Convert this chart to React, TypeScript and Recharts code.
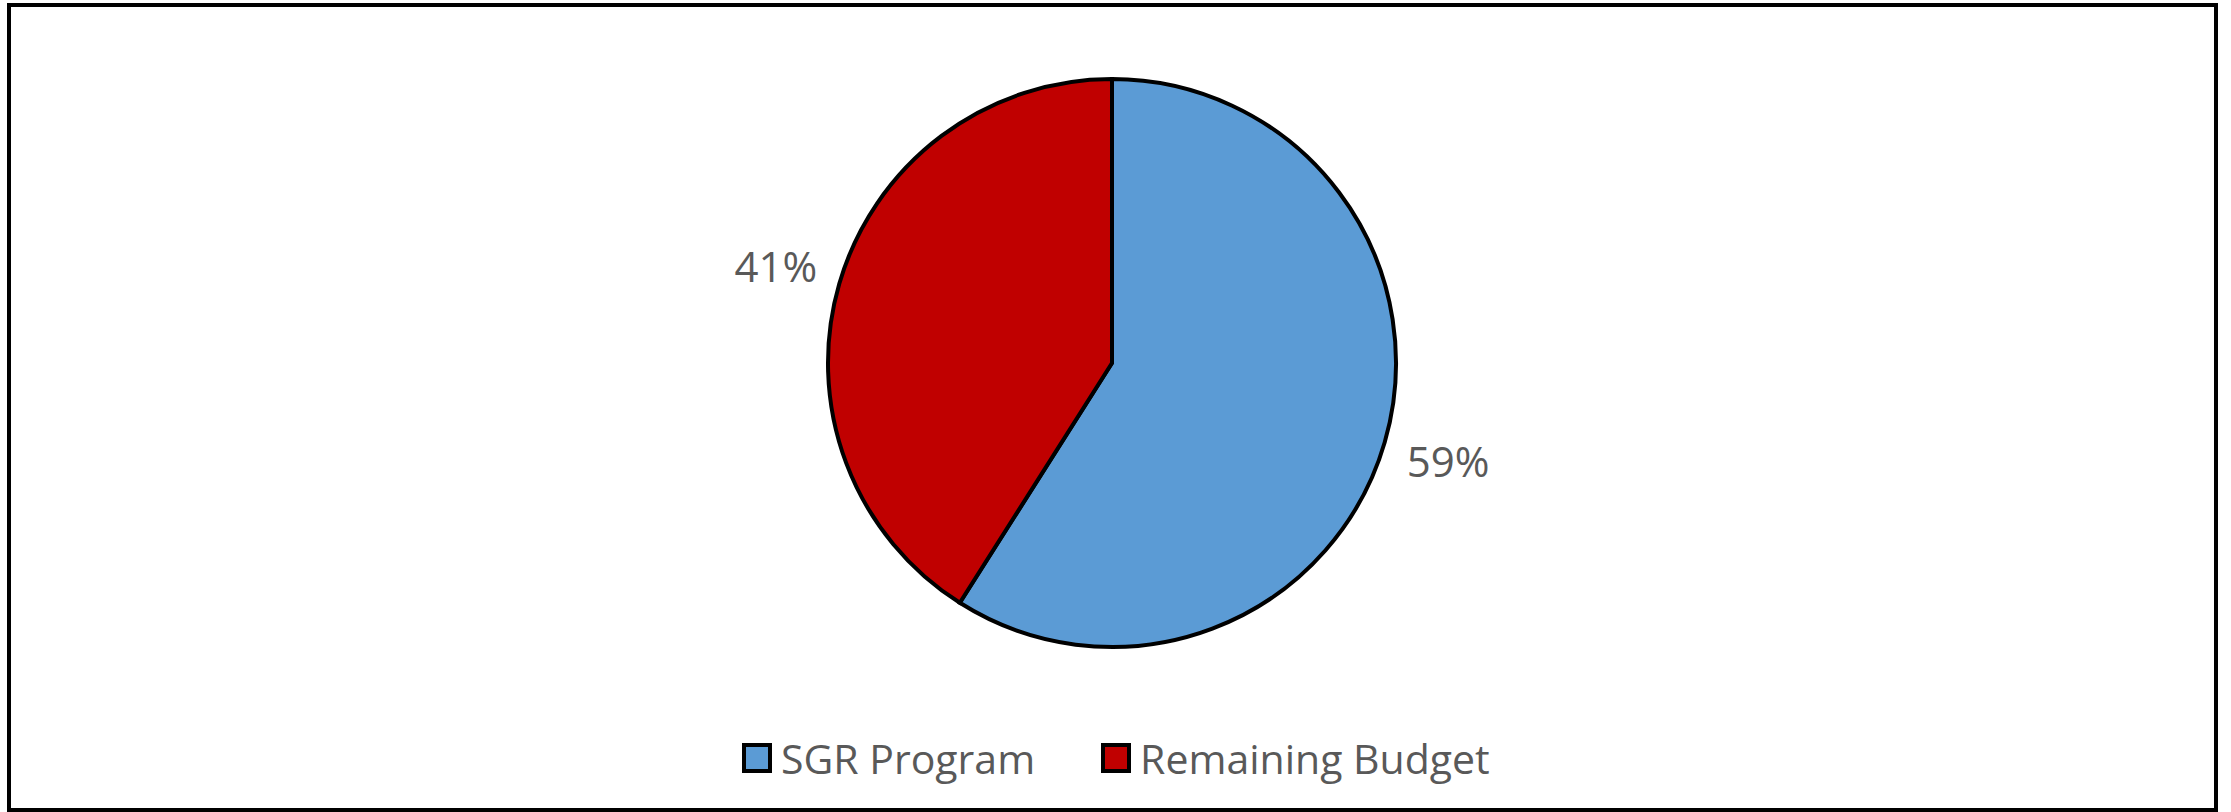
import React from 'react';
import { PieChart, Pie, Cell, Legend } from 'recharts';

// budget split
const categories = ['SGR Program', 'Remaining Budget'];
const shares = [59, 41];
const sliceColors = ['#5B9BD5', '#C00000'];

const data = categories.map((name, i) => ({ name, value: shares[i] }));

const RADIAN = Math.PI / 180;
const textColor = '#595959';
const font = '"Open Sans", "Noto Sans", sans-serif';

const renderLabel = (props: any) => {
    const { cx, cy, midAngle, outerRadius, value } = props;
    const r = outerRadius + 66;
    const x = cx + r * Math.cos(-midAngle * RADIAN);
    const y = cy + r * Math.sin(-midAngle * RADIAN);
    return (
        <text
            x={x}
            y={y}
            textAnchor="middle"
            dominantBaseline="central"
            fill={textColor}
            fontSize={42}
            fontFamily={font}
        >
            {`${value}%`}
        </text>
    );
};

const renderLegend = () => (
    <div style={{ display: 'flex', alignItems: 'center', fontFamily: font, fontSize: 41, color: textColor }}>
        {categories.map((name, i) => (
            <div key={name} style={{ display: 'flex', alignItems: 'center', marginRight: i === 0 ? 66 : 0 }}>
                <span
                    style={{
                        display: 'inline-block',
                        width: 22,
                        height: 22,
                        background: sliceColors[i],
                        border: '4px solid #000',
                        marginRight: 9,
                    }}
                />
                <span style={{ lineHeight: '40px' }}>{name}</span>
            </div>
        ))}
    </div>
);

export default function App() {
    return (
        <div style={{ position: 'absolute', left: 0, top: 0, width: 2231, height: 812, background: '#fff' }}>
            <div
                style={{
                    position: 'absolute',
                    left: 7,
                    top: 3,
                    width: 2203,
                    height: 801,
                    border: '4px solid #000',
                }}
            />
            <div style={{ position: 'absolute', left: 0, top: 0 }}>
                <PieChart width={2231} height={812} margin={{ top: 0, right: 0, bottom: 0, left: 0 }}>
                    <Pie
                        data={data}
                        dataKey="value"
                        nameKey="name"
                        cx={1112}
                        cy={363}
                        outerRadius={284}
                        startAngle={90}
                        endAngle={-270}
                        stroke="#000"
                        strokeWidth={4}
                        label={renderLabel}
                        labelLine={false}
                        isAnimationActive={false}
                    >
                        {data.map((d, i) => (
                            <Cell key={d.name} fill={sliceColors[i]} />
                        ))}
                    </Pie>
                    <Legend
                        content={renderLegend}
                        wrapperStyle={{ position: 'absolute', left: 742, top: 738, width: 'auto', height: 40 }}
                    />
                </PieChart>
            </div>
        </div>
    );
}
